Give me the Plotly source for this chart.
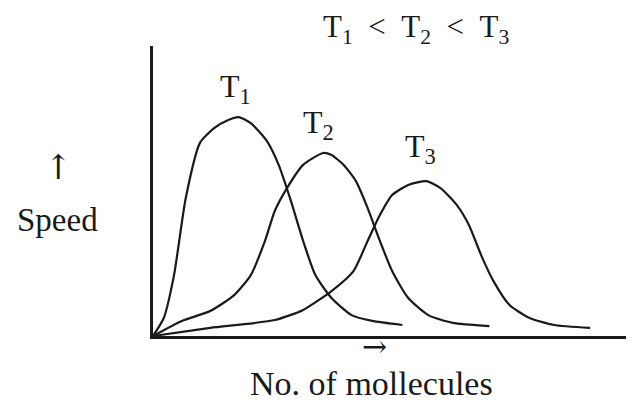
import plotly.graph_objects as go

# curve values (molecules axis 0-10, speed axis 0-10)
t1_x = [0, 0.22, 0.43, 0.67, 0.96, 1.25, 1.54, 1.75, 2.00, 2.33, 2.57, 2.82, 3.07, 3.32, 3.65, 4.06, 4.48, 5.10]
t1_y = [0, 0.62, 2.10, 4.76, 6.66, 7.17, 7.45, 7.55, 7.34, 6.72, 5.90, 4.66, 3.28, 2.10, 1.31, 0.72, 0.52, 0.38]

t2_x = [0, 0.59, 1.17, 1.66, 2.00, 2.29, 2.49, 2.74, 3.07, 3.48, 3.65, 3.90, 4.15, 4.39, 4.64, 4.89, 5.22, 5.63, 6.13, 6.88]
t2_y = [0, 0.52, 0.86, 1.41, 2.10, 3.28, 4.31, 5.10, 5.90, 6.31, 6.24, 5.90, 5.34, 4.41, 3.28, 2.24, 1.31, 0.72, 0.45, 0.34]

t3_x = [0, 1.17, 2.49, 3.07, 3.65, 4.10, 4.39, 4.64, 4.89, 5.22, 5.59, 5.88, 6.21, 6.46, 6.71, 6.96, 7.29, 7.70, 8.20, 8.94]
t3_y = [0, 0.28, 0.55, 0.90, 1.55, 2.24, 3.28, 4.17, 4.86, 5.21, 5.34, 5.10, 4.52, 3.83, 2.79, 1.90, 1.07, 0.62, 0.38, 0.28]

curve_labels = ["T<sub>1</sub>", "T<sub>2</sub>", "T<sub>3</sub>"]
title_text = "T<sub>1</sub>&nbsp; &lt; &nbsp;T<sub>2</sub>&nbsp; &lt; &nbsp;T<sub>3</sub>"
x_title = "No. of mollecules"
y_title = "Speed"

ink = "#1a1a1a"
serif = "Liberation Serif, Times New Roman, serif"
arrow_font = "DejaVu Serif, serif"


def note(fig, x, y, text, size, family=serif, ref="paper"):
    fig.add_annotation(xref=ref, yref=ref, x=x, y=y, text=text, showarrow=False,
                       xanchor="center", yanchor="middle",
                       font=dict(family=family, size=size, color=ink))


fig = go.Figure()
for xs, ys in [(t1_x, t1_y), (t2_x, t2_y), (t3_x, t3_y)]:
    fig.add_trace(go.Scatter(
        x=xs, y=ys, mode="lines",
        line=dict(color=ink, width=2.2, shape="spline", smoothing=0.6),
        hoverinfo="skip", showlegend=False,
    ))

# labels near each peak
label_pos = [(1.68, 8.55), (3.39, 7.31), (5.48, 6.45)]
for txt, (lx, ly) in zip(curve_labels, label_pos):
    note(fig, lx, ly, txt, 32, ref=None)

note(fig, 0.538, 1.06, title_text, 31)

# axis captions with arrows
note(fig, -0.194, 0.583, "↑", 34, family=arrow_font)
note(fig, -0.195, 0.40, y_title, 33)
note(fig, 0.452, -0.035, "→", 30, family=arrow_font)
note(fig, 0.447, -0.163, x_title, 34)

axis_style = dict(showline=True, linecolor=ink, linewidth=3, showgrid=False,
                  zeroline=False, showticklabels=False, ticks="", fixedrange=True)
fig.update_xaxes(range=[0, 10], **axis_style)
fig.update_yaxes(range=[0, 10], **axis_style)

fig.update_layout(
    width=634, height=403,
    margin=dict(l=145, r=0, t=38, b=75),
    paper_bgcolor="white", plot_bgcolor="white",
)

fig.write_html("out.html", config={"displayModeBar": False})
